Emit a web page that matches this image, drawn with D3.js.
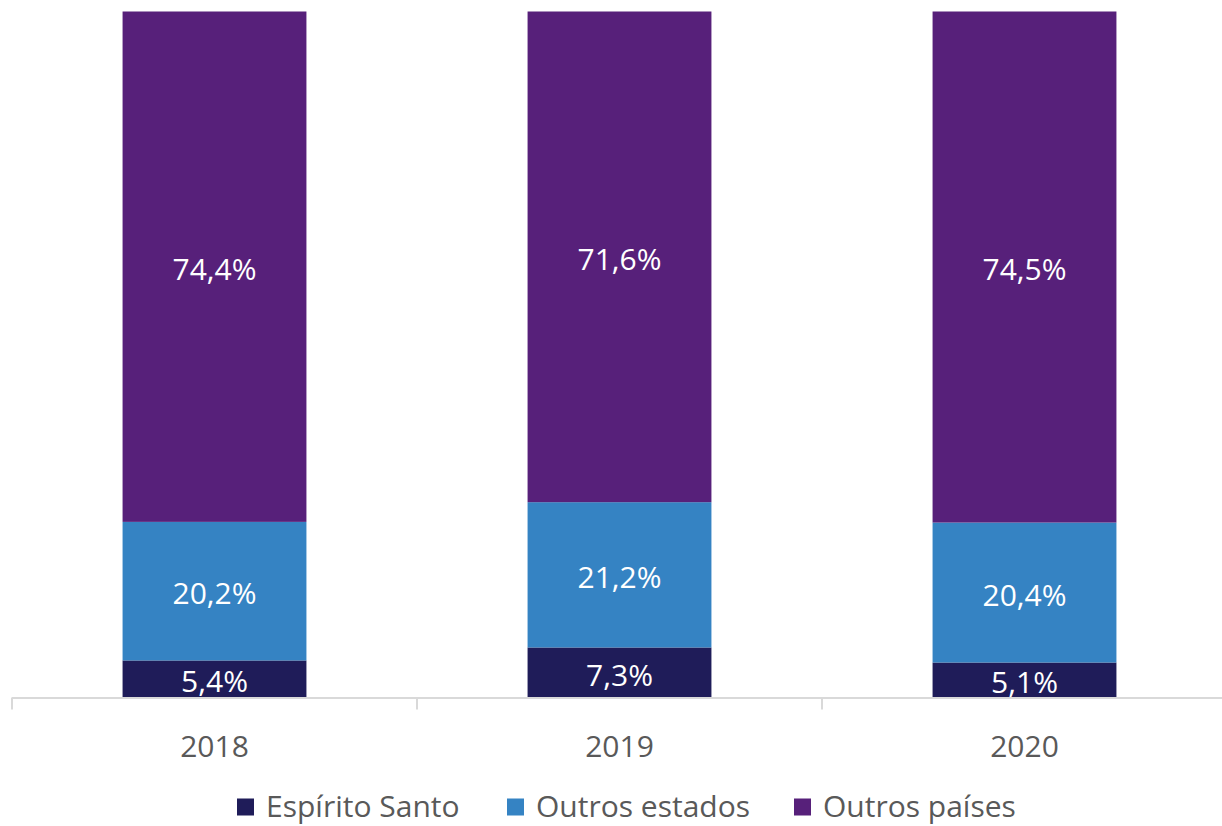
<!DOCTYPE html>
<html>
<head>
<meta charset="utf-8">
<script src="https://cdn.jsdelivr.net/npm/d3@7"></script>
<style>
  html, body { margin: 0; padding: 0; background: #fff; }
  svg { display: block; font-family: "Open Sans", "Noto Sans", sans-serif; }
</style>
</head>
<body>
<svg id="chart" width="1222" height="826"></svg>
<script>
// Origem das compras por ano (participação %)
const years = ["2018", "2019", "2020"];
const seriesNames = ["Espírito Santo", "Outros estados", "Outros países"];
const espiritoSanto = [5.4, 7.3, 5.1];
const outrosEstados = [20.2, 21.2, 20.4];
const outrosPaises = [74.4, 71.6, 74.5];
const seriesColors = ["#1f1c59", "#3583c3", "#57207a"];

const rows = years.map((y, i) => ({
  year: y,
  "Espírito Santo": espiritoSanto[i],
  "Outros estados": outrosEstados[i],
  "Outros países": outrosPaises[i]
}));

const svg = d3.select("#chart");
const margin = { left: 12, right: -5, top: 11.5, bottom: 128.5 };
const W = 1222, H = 826;
const plotBottom = H - margin.bottom;

const x = d3.scaleBand()
  .domain(years)
  .range([margin.left, W - margin.right])
  .paddingInner(0.546)
  .paddingOuter(0.273);

// 100% stacked: each column normalised to its own total
const stack = d3.stack().keys(seriesNames).offset(d3.stackOffsetExpand);
const layers = stack(rows);

const y = d3.scaleLinear().domain([0, 1]).range([plotBottom, margin.top]);

const color = d3.scaleOrdinal().domain(seriesNames).range(seriesColors);

// Bars
const g = svg.append("g");
layers.forEach(layer => {
  g.append("g")
    .attr("fill", color(layer.key))
    .selectAll("rect")
    .data(layer)
    .join("rect")
    .attr("x", d => x(d.data.year))
    .attr("width", x.bandwidth())
    .attr("y", d => y(d[1]))
    .attr("height", d => y(d[0]) - y(d[1]));
});

// Value labels
const fmt = v => v.toFixed(1).replace(".", ",") + "%";
layers.forEach(layer => {
  g.append("g")
    .selectAll("text")
    .data(layer)
    .join("text")
    .attr("x", d => x(d.data.year) + x.bandwidth() / 2)
    .attr("y", d => (y(d[0]) + y(d[1])) / 2)
    .attr("dy", "0.44em")
    .attr("text-anchor", "middle")
    .attr("fill", "#ffffff")
    .attr("font-size", 30)
    .text(d => fmt(d.data[layer.key]));
});

// Category axis with boundary ticks between groups
const step = x.step();
const bounds = d3.range(years.length + 1).map(i => margin.left + i * step);
const axisG = svg.append("g");
axisG.append("line")
  .attr("x1", bounds[0]).attr("x2", bounds[bounds.length - 1])
  .attr("y1", plotBottom + 0.5).attr("y2", plotBottom + 0.5)
  .attr("stroke", "#d9d9d9").attr("stroke-width", 2);
axisG.selectAll("line.tick")
  .data(bounds)
  .join("line")
  .attr("class", "tick")
  .attr("x1", d => d).attr("x2", d => d)
  .attr("y1", plotBottom).attr("y2", plotBottom + 12)
  .attr("stroke", "#d9d9d9").attr("stroke-width", 2);
axisG.selectAll("text")
  .data(years)
  .join("text")
  .attr("x", d => x(d) + x.bandwidth() / 2)
  .attr("y", 756.5)
  .attr("text-anchor", "middle")
  .attr("fill", "#595959")
  .attr("font-size", 30)
  .text(d => d);

// Legend
const legendX = [237, 507, 794];
const legend = svg.append("g");
seriesNames.forEach((name, i) => {
  legend.append("rect")
    .attr("x", legendX[i]).attr("y", 798.5)
    .attr("width", 17).attr("height", 17)
    .attr("fill", seriesColors[i]);
  legend.append("text")
    .attr("x", legendX[i] + 29).attr("y", 816.5)
    .attr("fill", "#595959")
    .attr("font-size", 30)
    .text(name);
});
</script>
</body>
</html>
